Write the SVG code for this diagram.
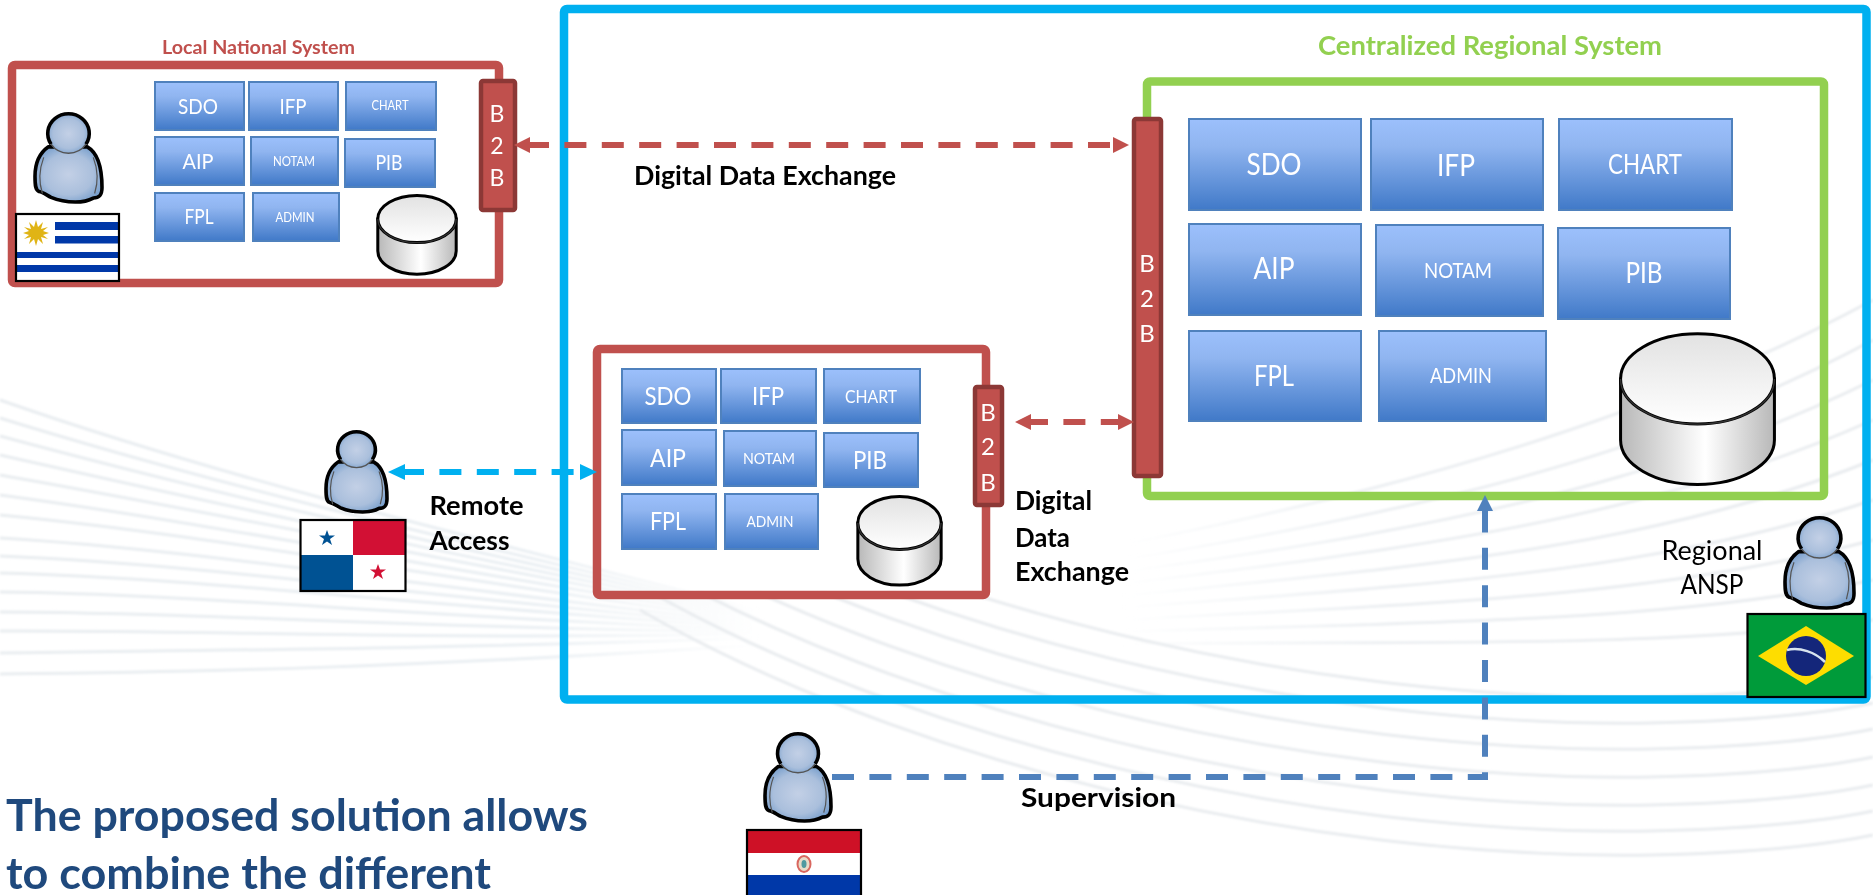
<svg xmlns="http://www.w3.org/2000/svg" xmlns:xlink="http://www.w3.org/1999/xlink" width="1873" height="895" viewBox="0 0 1873 895">
<style>
text{font-family:"Lato","Carlito","Open Sans","Liberation Sans",sans-serif}
.t{fill:#fff;text-anchor:middle}
.tile{fill:url(#tileG);stroke:#4F81BD;stroke-width:2}
.b2b{fill:#C0504D;stroke:#8C3836;stroke-width:4.5}
.lbl{fill:#000;font-weight:700;font-size:27px}
.bg{fill:none;stroke:#e9ecef;stroke-width:3}
.fl{fill:none;stroke:url(#fadeL);stroke-width:3}
.fr{fill:none;stroke:url(#fadeR);stroke-width:3}
.frame{fill:none;stroke-width:8.5}
.flagb{fill:none;stroke:#000;stroke-width:2.2}
.dash{fill:none;stroke-width:6;stroke-dasharray:22 15.4}
</style>
<defs>
<linearGradient id="tileG" x1="0" y1="0" x2="0" y2="1"><stop offset="0" stop-color="#9CC0FC"/><stop offset=".3" stop-color="#90B5F0"/><stop offset="1" stop-color="#4079C8"/></linearGradient>
<linearGradient id="fadeL" gradientUnits="userSpaceOnUse" x1="0" y1="0" x2="760" y2="0"><stop offset="0" stop-color="#e9edf0"/><stop offset=".7" stop-color="#eaeff3"/><stop offset="1" stop-color="#eef2f5" stop-opacity="0"/></linearGradient>
<linearGradient id="fadeR" gradientUnits="userSpaceOnUse" x1="1120" y1="0" x2="1873" y2="0"><stop offset="0" stop-color="#eef2f5" stop-opacity="0"/><stop offset=".35" stop-color="#eceff2"/><stop offset="1" stop-color="#e9ecef"/></linearGradient>
<radialGradient id="pG" cx=".5" cy=".5" r=".62"><stop offset="0" stop-color="#c3d0e6"/><stop offset=".6" stop-color="#aabfdc"/><stop offset="1" stop-color="#6a96c8"/></radialGradient>
<linearGradient id="cylB" x1="0" y1="0" x2="1" y2="0"><stop offset="0" stop-color="#b8b8b8"/><stop offset=".55" stop-color="#fff"/><stop offset="1" stop-color="#b8b8b8"/></linearGradient>
<linearGradient id="cylT" x1="0" y1="0" x2="0" y2="1"><stop offset="0" stop-color="#e2e2e2"/><stop offset="1" stop-color="#fff"/></linearGradient>
<filter id="soft" x="-5%" y="-5%" width="110%" height="110%"><feGaussianBlur stdDeviation="0.9"/></filter>
<clipPath id="arcClip"><rect x="0" y="592" width="1873" height="303"/></clipPath>
<marker id="mR" viewBox="0 0 16 16" markerUnits="userSpaceOnUse" markerWidth="16" markerHeight="16" refX="0" refY="8" orient="auto-start-reverse"><path d="M0,0L16,8L0,16Z" fill="#C0504D"/></marker>
<marker id="mC" viewBox="0 0 17 16" markerUnits="userSpaceOnUse" markerWidth="17" markerHeight="16" refX="0" refY="8" orient="auto-start-reverse"><path d="M0,0L17,8L0,16Z" fill="#00B0F0"/></marker>
<marker id="mB" viewBox="0 0 16 16" markerUnits="userSpaceOnUse" markerWidth="16" markerHeight="16" refX="0" refY="8" orient="auto"><path d="M0,0L16,8L0,16Z" fill="#4F81BD"/></marker>
<symbol id="person" viewBox="0 0 100 134" preserveAspectRatio="none" overflow="visible">
<path d="M20,50C6,60 0,75 0,95C0,110 1,116 6,118C12,119 18,124 24,127C38,133 50,134 60,134C70,134 80,132 87,128C96,128 100,124 100,112C100,80 92,58 78,50Z" fill="url(#pG)" stroke="#000" stroke-width="3.6" vector-effect="non-scaling-stroke" stroke-linejoin="round"/>
<path d="M13,66C6,85 6,105 11,121M87,66C94,85 94,105 89,121" fill="none" stroke="#555" stroke-width="1.2" vector-effect="non-scaling-stroke"/>
<ellipse cx="50" cy="30" rx="31" ry="30" fill="url(#pG)"/>
<path d="M24,46A31,30 0 1 1 76,46" fill="none" stroke="#000" stroke-width="3.6" vector-effect="non-scaling-stroke"/>
<path d="M24,46A31,30 0 0 0 76,46" fill="none" stroke="#555" stroke-width="1.4" vector-effect="non-scaling-stroke"/>
</symbol>
<symbol id="cyl" viewBox="0 0 100 100" preserveAspectRatio="none" overflow="visible">
<path d="M1,30V70A49,29 0 0 0 99,70V30Z" fill="url(#cylB)" stroke="#000" stroke-width="3" vector-effect="non-scaling-stroke"/>
<ellipse cx="50" cy="30" rx="49" ry="29.5" fill="url(#cylT)" stroke="#000" stroke-width="3" vector-effect="non-scaling-stroke"/>
<path d="M1,30A49,29.5 0 0 0 99,30" fill="none" stroke="#333" stroke-width="1.3" vector-effect="non-scaling-stroke"/>
</symbol>
<path id="arc" d="M640,610C900,760 1300,860 1650,855C1750,853 1820,846 1873,835" class="bg"/>
</defs>

<g id="background" filter="url(#soft)">
<path class="fl" d="M0,400C200,470 400,520 760,610"/>
<path class="fl" d="M0,418C200,480 400,528 760,612"/>
<path class="fl" d="M0,436C200,490 400,536 760,614"/>
<path class="fl" d="M0,455C200,500 400,544 760,616"/>
<path class="fl" d="M0,475C200,510 400,552 760,618"/>
<path class="fl" d="M0,495C200,522 400,562 760,620"/>
<path class="fl" d="M0,515C200,534 400,572 760,622"/>
<path class="fl" d="M0,538C200,550 400,584 760,624"/>
<path class="fl" d="M0,556C200,564 400,594 760,626"/>
<path class="fl" d="M0,573C200,578 400,604 760,628"/>
<path class="fl" d="M0,592C200,594 400,616 760,630"/>
<path class="fl" d="M0,612C200,612 400,628 760,632"/>
<path class="fl" d="M0,631C200,630 400,640 760,634"/>
<path class="fl" d="M0,653C200,650 400,650 760,638"/>
<path class="fl" d="M0,674C200,672 400,668 760,645"/>
<g clip-path="url(#arcClip)">
<use xlink:href="#arc" href="#arc"/>
<use xlink:href="#arc" href="#arc" y="-24"/>
<use xlink:href="#arc" href="#arc" y="-50"/>
<use xlink:href="#arc" href="#arc" y="-78"/>
<use xlink:href="#arc" href="#arc" y="-106"/>
<use xlink:href="#arc" href="#arc" y="-132"/>
<use xlink:href="#arc" href="#arc" y="-158"/>
</g>
<path class="fr" d="M1120,545C1400,490 1650,420 1873,300"/>
<path class="fr" d="M1120,560C1400,515 1650,460 1873,340"/>
<path class="fr" d="M1120,572C1400,535 1650,490 1873,380"/>
<path class="fr" d="M1120,584C1400,550 1650,520 1873,420"/>
<path class="fr" d="M1120,596C1400,568 1650,550 1873,460"/>
<path class="fr" d="M1120,608C1400,586 1650,575 1873,500"/>
<path class="fr" d="M1120,620C1400,604 1650,600 1873,540"/>
<path class="fr" d="M1120,632C1400,622 1650,625 1873,580"/>
<path class="fr" d="M1120,644C1400,640 1650,650 1873,620"/>
</g>

<g id="regional-frame"><rect class="frame" x="564" y="9" width="1302.5" height="690.5" rx="3" stroke="#00B0F0"/></g>

<g id="local-system">
<rect class="frame" x="12" y="65" width="487" height="218" rx="3" stroke="#C0504D" stroke-width="8"/>
<text x="258.500" y="54" text-anchor="middle" font-size="19" font-weight="700" fill="#C0504D" textLength="193" lengthAdjust="spacingAndGlyphs">Local National System</text>
<g id="local-tiles">
<rect class="tile" x="155" y="82" width="89" height="48"/><text class="t" x="198" y="114" font-size="22" textLength="40" lengthAdjust="spacingAndGlyphs">SDO</text>
<rect class="tile" x="249" y="82" width="89" height="48"/><text class="t" x="293" y="114" font-size="22" textLength="27" lengthAdjust="spacingAndGlyphs">IFP</text>
<rect class="tile" x="346" y="82" width="90" height="48"/><text class="t" x="390" y="110" font-size="12.500" textLength="37" lengthAdjust="spacingAndGlyphs">CHART</text>
<rect class="tile" x="155" y="137" width="89" height="48"/><text class="t" x="198" y="169" font-size="22" textLength="31" lengthAdjust="spacingAndGlyphs">AIP</text>
<rect class="tile" x="251" y="137" width="87" height="48"/><text class="t" x="294" y="166" font-size="12.500" textLength="42" lengthAdjust="spacingAndGlyphs">NOTAM</text>
<rect class="tile" x="345" y="139" width="90" height="48"/><text class="t" x="389" y="170" font-size="22" textLength="27" lengthAdjust="spacingAndGlyphs">PIB</text>
<rect class="tile" x="155" y="193" width="89" height="48"/><text class="t" x="199" y="224" font-size="22" textLength="29" lengthAdjust="spacingAndGlyphs">FPL</text>
<rect class="tile" x="253" y="193" width="86" height="48"/><text class="t" x="295" y="222" font-size="12.500" textLength="39" lengthAdjust="spacingAndGlyphs">ADMIN</text>
</g>
<use xlink:href="#cyl" href="#cyl" x="377" y="195" width="80" height="80"/>
<rect class="b2b" x="481" y="81" width="34" height="129" rx="2"/>
<text class="t" x="497" y="122" font-size="23">B</text><text class="t" x="497" y="154" font-size="23">2</text><text class="t" x="497" y="186" font-size="23">B</text>
</g>
<g id="user-uruguay">
<use xlink:href="#person" href="#person" x="35" y="114" width="67" height="88"/>
<rect x="16" y="214" width="103" height="67" fill="#fff"/>
<g fill="#0038A8"><rect x="55" y="222" width="64" height="8"/><rect x="55" y="236" width="64" height="7.500"/><rect x="16" y="252" width="103" height="6"/><rect x="16" y="265" width="103" height="7"/></g>
<polygon points="36,220 38,227 43,222 41,229 48,227 43,231 49,233 43,235 48,239 41,237 43,244 38,239 36,246 34,239 29,244 31,237 24,239 29,235 23,233 29,231 24,227 31,229 29,222 34,227" fill="#E0B415"/>
<rect class="flagb" x="16" y="214" width="103" height="67"/>
</g>

<g id="national-remote-system">
<rect class="frame" x="597" y="349" width="389" height="246" rx="3" stroke="#C0504D" stroke-width="8"/>
<g id="remote-tiles">
<rect class="tile" x="622" y="369" width="94" height="54"/><text class="t" x="668" y="405" font-size="25.500" textLength="47" lengthAdjust="spacingAndGlyphs">SDO</text>
<rect class="tile" x="721" y="369" width="95" height="54"/><text class="t" x="768" y="405" font-size="25.500" textLength="32" lengthAdjust="spacingAndGlyphs">IFP</text>
<rect class="tile" x="824" y="369" width="96" height="54"/><text class="t" x="871" y="403" font-size="17.500" textLength="52" lengthAdjust="spacingAndGlyphs">CHART</text>
<rect class="tile" x="622" y="430" width="94" height="55"/><text class="t" x="668" y="467" font-size="25.500" textLength="36" lengthAdjust="spacingAndGlyphs">AIP</text>
<rect class="tile" x="724" y="431" width="92" height="55"/><text class="t" x="769" y="464" font-size="16" textLength="52" lengthAdjust="spacingAndGlyphs">NOTAM</text>
<rect class="tile" x="824" y="433" width="94" height="54"/><text class="t" x="870" y="469" font-size="25.500" textLength="34" lengthAdjust="spacingAndGlyphs">PIB</text>
<rect class="tile" x="622" y="494" width="94" height="55"/><text class="t" x="668" y="530" font-size="25.500" textLength="36" lengthAdjust="spacingAndGlyphs">FPL</text>
<rect class="tile" x="725" y="494" width="93" height="55"/><text class="t" x="770" y="527" font-size="16" textLength="47" lengthAdjust="spacingAndGlyphs">ADMIN</text>
</g>
<use xlink:href="#cyl" href="#cyl" x="857" y="496" width="85" height="90"/>
<rect class="b2b" x="975" y="387" width="27" height="118" rx="2"/>
<text class="t" x="988" y="421" font-size="24">B</text><text class="t" x="988" y="455" font-size="24">2</text><text class="t" x="988" y="491" font-size="24">B</text>
</g>
<g id="user-panama">
<use xlink:href="#person" href="#person" x="326" y="432" width="61" height="80"/>
<rect x="300.500" y="520" width="105" height="71" fill="#fff"/>
<rect x="353" y="520" width="52.500" height="35" fill="#D21034"/>
<rect x="300.500" y="555" width="52.500" height="36" fill="#005293"/>
<polygon points="327,530 329,535.500 335,535.500 330,539 332,545 327,541.500 322,545 324,539 319,535.500 325,535.500" fill="#005293"/>
<polygon points="378,564 380,569.500 386,569.500 381,573 383,579 378,575.500 373,579 375,573 370,569.500 376,569.500" fill="#D21034"/>
<rect class="flagb" x="300.500" y="520" width="105" height="71"/>
</g>

<g id="central-system">
<rect class="frame" x="1147" y="81.500" width="677" height="414.500" rx="3" stroke="#92D050" stroke-width="8"/>
<text x="1490" y="55" text-anchor="middle" font-size="26" font-weight="700" fill="#92D050" textLength="344" lengthAdjust="spacingAndGlyphs">Centralized Regional System</text>
<g id="central-tiles">
<rect class="tile" x="1189" y="119" width="172" height="91"/><text class="t" x="1274" y="175" font-size="30" textLength="55" lengthAdjust="spacingAndGlyphs">SDO</text>
<rect class="tile" x="1371" y="119" width="172" height="91"/><text class="t" x="1456" y="176" font-size="30" textLength="38" lengthAdjust="spacingAndGlyphs">IFP</text>
<rect class="tile" x="1559" y="119" width="173" height="91"/><text class="t" x="1645" y="174" font-size="26" textLength="74" lengthAdjust="spacingAndGlyphs">CHART</text>
<rect class="tile" x="1189" y="224" width="172" height="91"/><text class="t" x="1274" y="279" font-size="30" textLength="41" lengthAdjust="spacingAndGlyphs">AIP</text>
<rect class="tile" x="1376" y="225" width="167" height="91"/><text class="t" x="1458" y="278" font-size="21" textLength="68" lengthAdjust="spacingAndGlyphs">NOTAM</text>
<rect class="tile" x="1558" y="228" width="172" height="91"/><text class="t" x="1644" y="283" font-size="28" textLength="37" lengthAdjust="spacingAndGlyphs">PIB</text>
<rect class="tile" x="1189" y="331" width="172" height="90"/><text class="t" x="1274" y="386" font-size="28" textLength="40" lengthAdjust="spacingAndGlyphs">FPL</text>
<rect class="tile" x="1379" y="331" width="167" height="90"/><text class="t" x="1461" y="383" font-size="21" textLength="62" lengthAdjust="spacingAndGlyphs">ADMIN</text>
</g>
<use xlink:href="#cyl" href="#cyl" x="1619" y="333" width="157" height="153"/>
<rect class="b2b" x="1134" y="119" width="27" height="357" rx="2"/>
<text class="t" x="1147" y="272" font-size="24">B</text><text class="t" x="1147" y="307" font-size="24">2</text><text class="t" x="1147" y="342" font-size="24">B</text>
</g>
<g id="user-brazil">
<use xlink:href="#person" href="#person" x="1785" y="518" width="69" height="90"/>
<rect x="1747.500" y="614" width="118" height="83" fill="#009B3A"/>
<polygon points="1758,656 1806,626 1854,656 1806,685" fill="#FEDD00"/>
<circle cx="1806" cy="656" r="20" fill="#14267A"/>
<path d="M1787,650C1800,647 1815,652 1825,662" fill="none" stroke="#d8e4ee" stroke-width="2.500"/>
<rect class="flagb" x="1747.500" y="614" width="118" height="83"/>
<text x="1712" y="560" text-anchor="middle" font-size="27" textLength="101" lengthAdjust="spacingAndGlyphs">Regional</text>
<text x="1712" y="594" text-anchor="middle" font-size="27" textLength="63" lengthAdjust="spacingAndGlyphs">ANSP</text>
</g>
<g id="user-paraguay">
<use xlink:href="#person" href="#person" x="765" y="734" width="66" height="87"/>
<rect x="747" y="830" width="114" height="66" fill="#fff"/>
<rect x="747" y="830" width="114" height="23" fill="#CE1126"/>
<rect x="747" y="875" width="114" height="21" fill="#0038A8"/>
<ellipse cx="804" cy="864" rx="6.500" ry="8" fill="#e8dcc8" stroke="#d9675f" stroke-width="2"/>
<ellipse cx="804" cy="864" rx="2.500" ry="4" fill="#4f9aa0"/>
<rect class="flagb" x="747" y="830" width="114" height="70"/>
</g>

<g id="connectors">
<path class="dash" d="M530,145H1113" stroke="#C0504D" stroke-dashoffset="3" marker-start="url(#mR)" marker-end="url(#mR)"/>
<path class="dash" d="M1031,422H1118" stroke="#C0504D" stroke-dashoffset="5" marker-start="url(#mR)" marker-end="url(#mR)"/>
<path class="dash" d="M405,472H580" stroke="#00B0F0" stroke-dashoffset="3" marker-start="url(#mC)" marker-end="url(#mC)"/>
<path class="dash" d="M832,777H1485V511" stroke="#4F81BD" marker-end="url(#mB)"/>
</g>

<g id="labels">
<text class="lbl" x="634" y="185" textLength="262" lengthAdjust="spacingAndGlyphs">Digital Data Exchange</text>
<text class="lbl" x="429.500" y="515" textLength="94" lengthAdjust="spacingAndGlyphs">Remote</text>
<text class="lbl" x="429.500" y="550" textLength="80" lengthAdjust="spacingAndGlyphs">Access</text>
<text class="lbl" x="1015" y="510" textLength="77" lengthAdjust="spacingAndGlyphs">Digital</text>
<text class="lbl" x="1015" y="547" textLength="55" lengthAdjust="spacingAndGlyphs">Data</text>
<text class="lbl" x="1015" y="581" textLength="114" lengthAdjust="spacingAndGlyphs">Exchange</text>
<text class="lbl" x="1021" y="807" textLength="155" lengthAdjust="spacingAndGlyphs">Supervision</text>
<text x="6" y="831" font-size="44" font-weight="700" fill="#1F497D" textLength="582" lengthAdjust="spacingAndGlyphs">The proposed solution allows</text>
<text x="6" y="889" font-size="44" font-weight="700" fill="#1F497D" textLength="485" lengthAdjust="spacingAndGlyphs">to combine the different</text>
</g>
</svg>
